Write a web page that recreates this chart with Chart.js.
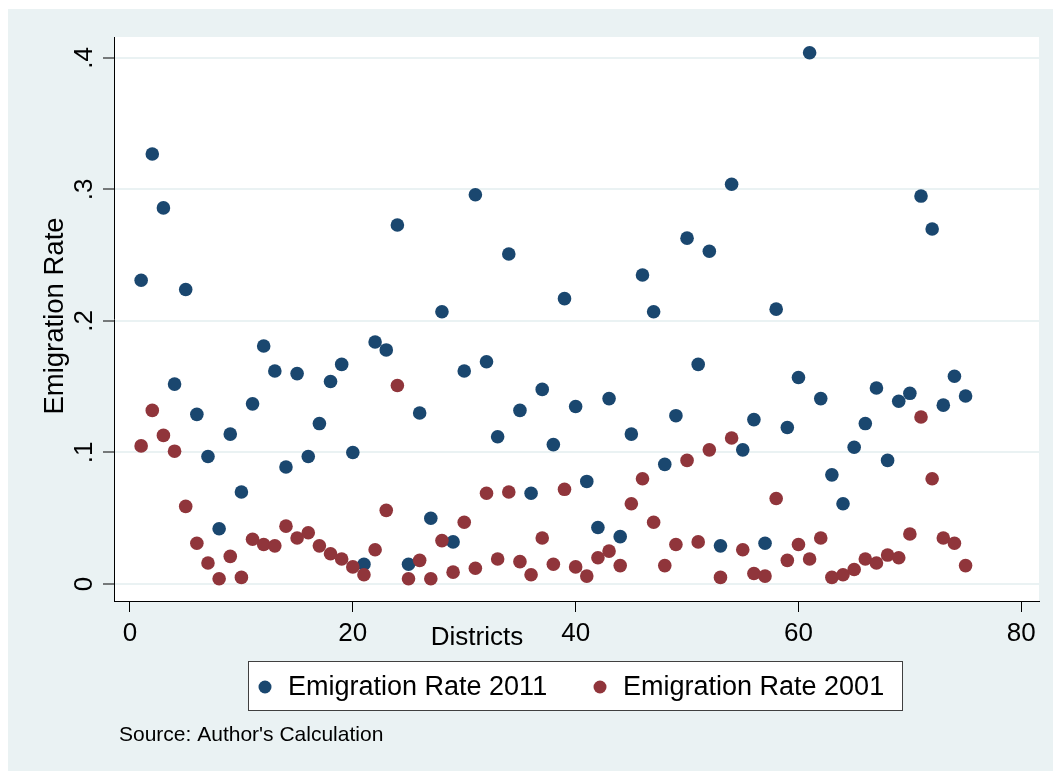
<!DOCTYPE html>
<html>
<head>
<meta charset="utf-8">
<title>Emigration Rate by District</title>
<script src="https://cdn.jsdelivr.net/npm/chart.js@4.4.1/dist/chart.umd.min.js"></script>
<style>
  html, body { margin: 0; padding: 0; background: #fff; }
  canvas { display: block; }
</style>
</head>
<body>
<canvas id="myChart" width="1053" height="771"></canvas>
<script>
// district numbers (x) and the two emigration rates
const districts = [
  1, 2, 3, 4, 5, 6, 7, 8, 9, 10, 11, 12, 13, 14, 15, 16, 17, 18, 19, 20,
  21, 22, 23, 24, 25, 26, 27, 28, 29, 30, 31, 32, 33, 34, 35, 36, 37, 38, 39, 40,
  41, 42, 43, 44, 45, 46, 47, 48, 49, 50, 51, 52, 53, 54, 55, 56, 57, 58, 59, 60,
  61, 62, 63, 64, 65, 66, 67, 68, 69, 70, 71, 72, 73, 74, 75
];
const rate2011 = [
  0.231, 0.327, 0.286, 0.152, 0.224, 0.129, 0.097, 0.042, 0.114, 0.070,
  0.137, 0.181, 0.162, 0.089, 0.160, 0.097, 0.122, 0.154, 0.167, 0.100,
  0.015, 0.184, 0.178, 0.273, 0.015, 0.130, 0.050, 0.207, 0.032, 0.162,
  0.296, 0.169, 0.112, 0.251, 0.132, 0.069, 0.148, 0.106, 0.217, 0.135,
  0.078, 0.043, 0.141, 0.036, 0.114, 0.235, 0.207, 0.091, 0.128, 0.263,
  0.167, 0.253, 0.029, 0.304, 0.102, 0.125, 0.031, 0.209, 0.119, 0.157,
  0.404, 0.141, 0.083, 0.061, 0.104, 0.122, 0.149, 0.094, 0.139, 0.145,
  0.295, 0.270, 0.136, 0.158, 0.143
];
const rate2001 = [
  0.105, 0.132, 0.113, 0.101, 0.059, 0.031, 0.016, 0.004, 0.021, 0.005,
  0.034, 0.030, 0.029, 0.044, 0.035, 0.039, 0.029, 0.023, 0.019, 0.013,
  0.007, 0.026, 0.056, 0.151, 0.004, 0.018, 0.004, 0.033, 0.009, 0.047,
  0.012, 0.069, 0.019, 0.070, 0.017, 0.007, 0.035, 0.015, 0.072, 0.013,
  0.006, 0.020, 0.025, 0.014, 0.061, 0.080, 0.047, 0.014, 0.030, 0.094,
  0.032, 0.102, 0.005, 0.111, 0.026, 0.008, 0.006, 0.065, 0.018, 0.030,
  0.019, 0.035, 0.005, 0.007, 0.011, 0.019, 0.016, 0.022, 0.020, 0.038,
  0.127, 0.080, 0.035, 0.031, 0.014
];
const xTicks = [0, 20, 40, 60, 80];
const yTicks = [0, 0.1, 0.2, 0.3, 0.4];
const yTickLabels = ['0', '.1', '.2', '.3', '.4'];
const seriesLabels = ['Emigration Rate 2011', 'Emigration Rate 2001'];

const NAVY = '#1a476f';
const MAROON = '#90353b';
const REGION = '#eaf2f3';
const FONT = '"Liberation Sans", Arial, sans-serif';

// stata-ish decorations: graph region, rotated y labels, legend box, note
const stataDecor = {
  id: 'stataDecor',
  beforeDraw(chart) {
    const { ctx, chartArea: a } = chart;
    ctx.save();
    ctx.fillStyle = '#ffffff';
    ctx.fillRect(0, 0, chart.width, chart.height);
    ctx.fillStyle = REGION;
    ctx.fillRect(8, 9, chart.width - 8, chart.height - 9);
    ctx.fillStyle = '#ffffff';
    ctx.fillRect(a.left, a.top, a.right - a.left, a.bottom - a.top);
    ctx.restore();
  },
  afterDraw(chart) {
    const { ctx } = chart;
    const y = chart.scales.y;
    ctx.save();
    ctx.fillStyle = '#000';

    // y tick labels, turned like stata does
    ctx.font = '26px ' + FONT;
    ctx.textAlign = 'center';
    ctx.textBaseline = 'alphabetic';
    yTicks.forEach((v, i) => {
      ctx.save();
      ctx.translate(92, y.getPixelForValue(v));
      ctx.rotate(-Math.PI / 2);
      ctx.fillText(yTickLabels[i], 0, 0);
      ctx.restore();
    });

    // y title
    ctx.font = '27.5px ' + FONT;
    ctx.save();
    ctx.translate(63, 316);
    ctx.rotate(-Math.PI / 2);
    ctx.fillText('Emigration Rate', 0, 0);
    ctx.restore();

    // x title sits off-centre in the original
    ctx.font = '26px ' + FONT;
    ctx.textBaseline = 'middle';
    ctx.fillText('Districts', 477, 638);

    // legend
    ctx.fillStyle = '#ffffff';
    ctx.fillRect(248, 661, 655, 50);
    ctx.strokeStyle = '#404040';
    ctx.lineWidth = 1;
    ctx.strokeRect(248.5, 661.5, 654, 49);

    const items = [
      { x: 265, label: seriesLabels[0], color: NAVY },
      { x: 600, label: seriesLabels[1], color: MAROON }
    ];
    ctx.font = '27px ' + FONT;
    ctx.textAlign = 'left';
    items.forEach(it => {
      ctx.fillStyle = it.color;
      ctx.beginPath();
      ctx.arc(it.x, 687, 6.5, 0, Math.PI * 2);
      ctx.fill();
      ctx.fillStyle = '#000';
      ctx.fillText(it.label, it.x + 23, 688);
    });

    // note
    ctx.font = '21px ' + FONT;
    ctx.fillText("Source: Author's Calculation", 119, 735);
    ctx.restore();
  }
};

new Chart(
  document.getElementById('myChart'),
  {
    type: 'scatter',
    plugins: [stataDecor],
    data: {
      datasets: [
        {
          label: seriesLabels[0],
          data: districts.map((d, i) => ({ x: d, y: rate2011[i] })),
          backgroundColor: NAVY,
          borderWidth: 0,
          pointRadius: 6.8,
          order: 1
        },
        {
          label: seriesLabels[1],
          data: districts.map((d, i) => ({ x: d, y: rate2001[i] })),
          backgroundColor: MAROON,
          borderWidth: 0,
          pointRadius: 6.8,
          order: 0
        }
      ]
    },
    options: {
      responsive: false,
      animation: false,
      layout: {
        padding: { top: 37, right: 14, left: 0, bottom: 0 }
      },
      plugins: {
        legend: { display: false },
        tooltip: { enabled: false }
      },
      scales: {
        x: {
          type: 'linear',
          min: -1.436,
          max: 81.59,
          afterFit: s => { s.height = 170; },
          afterBuildTicks: s => { s.ticks = xTicks.map(v => ({ value: v })); },
          grid: {
            drawOnChartArea: false,
            drawTicks: true,
            tickLength: 11,
            tickColor: '#000',
            tickWidth: 1
          },
          border: { display: true, color: '#000', width: 1 },
          ticks: {
            color: '#000',
            font: { family: FONT, size: 26 },
            padding: 6,
            maxRotation: 0,
            callback: v => String(v)
          }
        },
        y: {
          type: 'linear',
          min: -0.01293,
          max: 0.41597,
          afterFit: s => { s.width = 114; },
          afterBuildTicks: s => { s.ticks = yTicks.map(v => ({ value: v })); },
          grid: {
            color: REGION,
            lineWidth: 2,
            drawTicks: true,
            tickLength: 11,
            tickColor: '#000',
            tickWidth: 1
          },
          border: { display: true, color: '#000', width: 1 },
          ticks: { display: false }
        }
      }
    }
  }
);
</script>
</body>
</html>
